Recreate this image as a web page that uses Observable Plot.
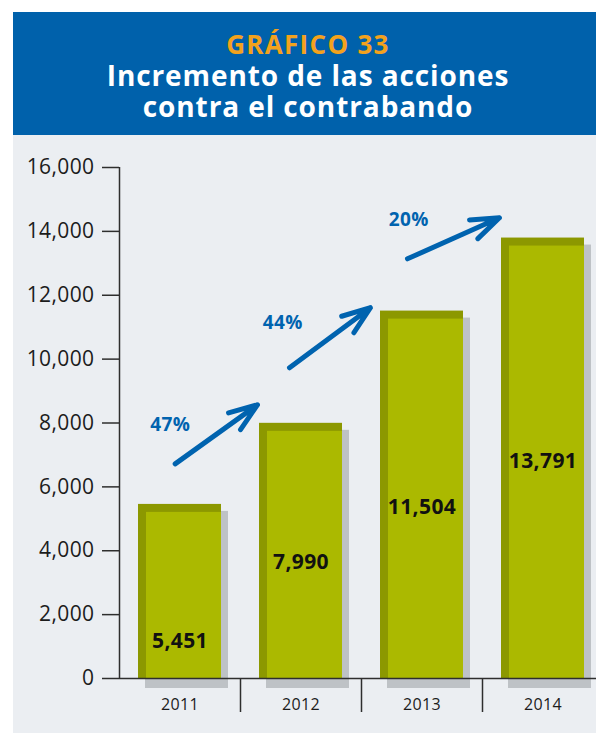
<!DOCTYPE html>
<html>
<head>
<meta charset="utf-8">
<script src="https://cdn.jsdelivr.net/npm/d3@7"></script>
<script src="https://cdn.jsdelivr.net/npm/@observablehq/plot@0.6"></script>
<style>
  html, body { margin: 0; padding: 0; background: #ffffff; }
  #wrap { position: absolute; left: 13px; top: 12px; width: 583px; }
  #head {
    background: #0061AB; height: 123px; box-sizing: border-box;
    padding-top: 17px; padding-left: 7px; text-align: center;
    font-family: "Open Sans", sans-serif; font-weight: 700;
  }
  #head .l1 { color: #F3A21D; font-size: 26px; line-height: 31px; letter-spacing: 1.3px; }
  #head .l2 { color: #ffffff; font-size: 28px; line-height: 31px; letter-spacing: 0.9px; }
  #panel { background: #EBEEF2; height: 598px; }
  #panel svg { display: block; }
  #panel svg text { letter-spacing: 0.4px; }
</style>
</head>
<body>
<div id="wrap">
  <div id="head">
    <div class="l1">GRÁFICO 33</div>
    <div class="l2">Incremento de las acciones</div>
    <div class="l2">contra el contrabando</div>
  </div>
  <div id="panel"></div>
</div>
<script>
// ---- data ----
const years = [2011, 2012, 2013, 2014];
const values = [5451, 7990, 11504, 13791];
const labelAt = [1180, 3630, 5350, 6790];          // height (data units) of value labels

const growthLabels = ["47%", "44%", "20%"];
const growthLabelX = [2010.92, 2011.85, 2012.89];
const growthLabelY = [7940, 11140, 14360];
const arrowX1 = [2010.96, 2011.905, 2012.88];
const arrowY1 = [6720, 9730, 13140];
const arrowX2 = [2011.64, 2012.574, 2013.64];
const arrowY2 = [8570, 11610, 14425];

const yTicks = [0, 2000, 4000, 6000, 8000, 10000, 12000, 14000, 16000];
const separators = [2011.5, 2012.5, 2013.5];

const bars = years.map((year, i) => ({year, value: values[i], labelAt: labelAt[i]}));
const growth = growthLabels.map((label, i) => ({
  label, tx: growthLabelX[i], ty: growthLabelY[i],
  x1: arrowX1[i], y1: arrowY1[i], x2: arrowX2[i], y2: arrowY2[i]
}));

const fmt = d3.format(",");
const axisColor = "#2e2e2e";
const blue = "#0063AF";

const chart = Plot.plot({
  width: 583,
  height: 598,
  marginLeft: 106,
  marginRight: 0,
  marginTop: 32,
  marginBottom: 55,
  style: {background: "transparent", fontFamily: "'Open Sans', sans-serif", color: "#1c1c1c", overflow: "visible"},
  x: {type: "linear", domain: [2010.5, 2014.5], range: [106, 590], axis: null},
  y: {domain: [0, 16000], axis: null},
  marks: [
    // shadows
    Plot.rectY(bars, {x1: d => d.year - 0.5, x2: d => d.year + 0.5, y: "value",
      insetLeft: 19, insetRight: 19, dx: 7, dy: 7, insetBottom: -3, fill: "#BEC2C6"}),
    // dark edge
    Plot.rectY(bars, {x1: d => d.year - 0.5, x2: d => d.year + 0.5, y: "value",
      insetLeft: 19, insetRight: 19, fill: "#8C9800"}),
    // main face
    Plot.rectY(bars, {x1: d => d.year - 0.5, x2: d => d.year + 0.5, y: "value",
      insetLeft: 27, insetRight: 19, insetTop: 8, fill: "#ABB900"}),
    // axes
    Plot.axisY({ticks: yTicks, tickSize: 17, tickPadding: 8, tickFormat: fmt,
      fontSize: 21, stroke: axisColor, strokeWidth: 1.5, fill: "#1c1c1c", label: null}),
    Plot.axisX({ticks: years, tickSize: 0, tickPadding: 20, tickFormat: d3.format("d"),
      fontSize: 16, fill: "#1c1c1c", label: null}),
    Plot.axisX({ticks: separators, tickSize: 34, tickFormat: () => "",
      stroke: axisColor, strokeWidth: 1.5, label: null}),
    Plot.ruleY([0], {stroke: axisColor, strokeWidth: 1.5}),
    Plot.ruleX([2010.5], {y1: 0, y2: 16000, stroke: axisColor, strokeWidth: 1.5}),
    // value labels
    Plot.text(bars, {x: "year", y: "labelAt", text: d => fmt(d.value),
      fontSize: 21, fontWeight: 700, fill: "#111111"}),
    // growth arrows
    Plot.arrow(growth, {x1: "x1", y1: "y1", x2: "x2", y2: "y2",
      stroke: blue, strokeWidth: 5, headLength: 9, headAngle: 40}),
    Plot.text(growth, {x: "tx", y: "ty", text: "label",
      fontSize: 19, fontWeight: 700, fill: blue})
  ]
});
document.getElementById("panel").appendChild(chart);
</script>
</body>
</html>
